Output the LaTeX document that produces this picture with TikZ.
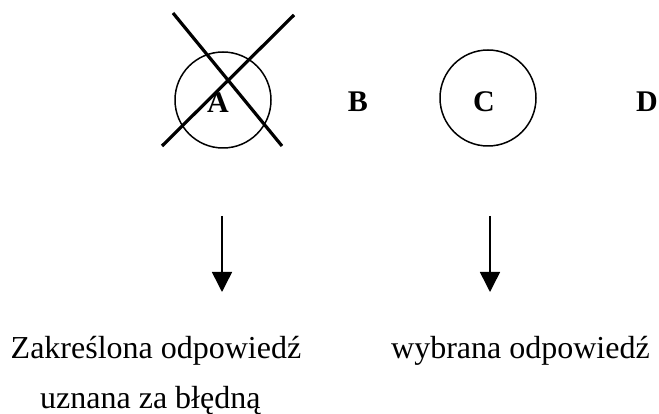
\documentclass[tikz,border=0pt]{standalone}
\usepackage{fontspec}
\setmainfont{Liberation Serif}
\usetikzlibrary{arrows.meta}
\begin{document}
\begin{tikzpicture}[x=1pt,y=-1pt,
  choice/.style={circle,draw,line width=1.5pt,minimum size=96pt,inner sep=0pt},
  letter/.style={font=\fontsize{30}{34}\selectfont\bfseries,inner sep=0pt,anchor=base},
  caption/.style={font=\fontsize{32}{38}\selectfont,inner sep=0pt,anchor=base west},
  cross/.style={line width=3.2pt},
  pointer/.style={line width=1.5pt,-{Triangle[length=20pt,width=20pt]}}]
\useasboundingbox (0,0) rectangle (659,414);
\node[choice] (ca) at (223,100) {};
\node[letter] (la) at (218,113) {A};
\coordinate (x1a) at (173,13);
\coordinate (x1b) at (282,146);
\coordinate (x2a) at (294,15);
\coordinate (x2b) at (162,146);
\draw[cross] (x1a) -- (x1b);
\draw[cross] (x2a) -- (x2b);
\node[letter] (lb) at (358,112) {B};
\node[choice] (cc) at (488,98) {};
\node[letter] (lc) at (484,112) {C};
\node[letter] (ld) at (647,112) {D};
\coordinate (a1s) at (222,216);
\coordinate (a1e) at (222,292);
\coordinate (a2s) at (490,216);
\coordinate (a2e) at (490,292);
\draw[pointer] (a1s) -- (a1e);
\draw[pointer] (a2s) -- (a2e);
\node[caption] (t1) at (10.5,358) {Zakreślona odpowiedź};
\node[caption] (t2) at (391,358) {wybrana odpowiedź};
\node[caption] (t3) at (40,408) {uznana za błędną};
\end{tikzpicture}
\end{document}
